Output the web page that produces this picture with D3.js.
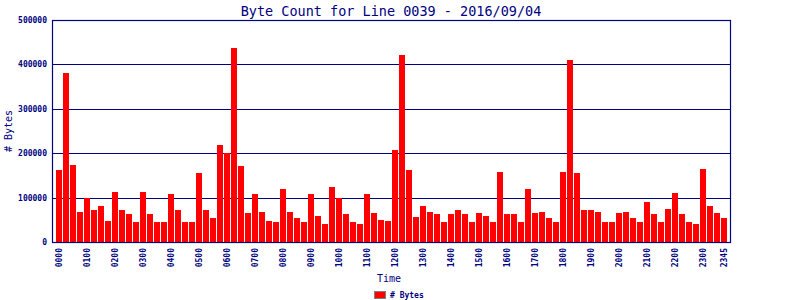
<!DOCTYPE html>
<html><head><meta charset="utf-8">
<script src="https://cdn.jsdelivr.net/npm/d3@7"></script>
<style>body{margin:0;background:#fff}svg{display:block}</style>
</head><body>
<script>
const times = [];
for (let h = 0; h < 24; h++) for (let m = 0; m < 60; m += 15)
  times.push(String(h).padStart(2,"0") + String(m).padStart(2,"0"));
const bytes = [
 162000,381000,174000,68000,100000,73000,80000,48000,
 113000,73000,64000,46000,113000,62000,46000,46000,
 109000,71000,44000,46000,156000,71000,53000,219000,
 201000,438000,172000,66000,109000,68000,48000,44000,
 119000,68000,55000,44000,109000,59000,41000,125000,
 98000,64000,44000,41000,109000,66000,50000,48000,
 208000,422000,163000,57000,80000,68000,62000,44000,
 64000,73000,62000,44000,66000,59000,44000,158000,
 64000,62000,44000,119000,66000,68000,53000,46000,
 158000,411000,156000,71000,71000,68000,46000,44000,
 66000,68000,53000,44000,89000,64000,46000,75000,
 111000,64000,46000,41000,165000,80000,66000,53000
];
const tickLabels = times.filter((t,i) => t.endsWith("00") || i === times.length-1);
const yTicks = [0,100000,200000,300000,400000,500000];
const title = "Byte Count for Line 0039 - 2016/09/04";
const navy = "#000080", red = "#ff0000";

const W = 800, H = 300;
const L = 52, R = 730, T = 20, B = 242;
const svg = d3.select("body").append("svg").attr("width", W).attr("height", H)
  .style("font-family", "'DejaVu Sans Mono', monospace");

const x = d3.scaleBand().domain(times).range([55, 728]).padding(1/7);
const y = d3.scaleLinear().domain([0, 500000]).range([B, T]);

// gridlines
svg.append("g").selectAll("line").data(yTicks.slice(1)).join("line")
  .attr("x1", L).attr("x2", R).attr("y1", d => Math.round(y(d)) + 0.5).attr("y2", d => Math.round(y(d)) + 0.5)
  .attr("stroke", navy).attr("stroke-width", 1.2);

// bars
svg.append("g").attr("shape-rendering", "crispEdges").selectAll("rect").data(bytes).join("rect")
  .attr("x", (d,i) => Math.round(x(times[i]))).attr("width", Math.round(x.bandwidth()))
  .attr("y", d => Math.round(y(d))).attr("height", d => B - Math.round(y(d)))
  .attr("fill", red);

// frame
svg.append("rect").attr("x", L + 0.5).attr("y", T + 0.5).attr("width", R - L).attr("height", B - T)
  .attr("fill", "none").attr("stroke", navy).attr("stroke-width", 1.2);

// y axis labels
const yAxis = d3.axisLeft(y).tickValues(yTicks).tickSize(0).tickPadding(5).tickFormat(d3.format("d"));
const gy = svg.append("g").attr("transform", `translate(${L},0)`).call(yAxis);
gy.select(".domain").remove();
gy.selectAll("text").attr("fill", navy).style("font-size", "8px").style("font-weight", "bold")
  .style("font-family", "'DejaVu Sans Mono', monospace");

// x axis labels
const xAxis = d3.axisBottom(x).tickValues(tickLabels).tickSize(0).tickPadding(0);
const gx = svg.append("g").attr("transform", `translate(0,${B})`).call(xAxis);
gx.select(".domain").remove();
gx.selectAll("text").attr("fill", navy).style("font-size", "8px").style("font-weight", "bold")
  .style("font-family", "'DejaVu Sans Mono', monospace")
  .attr("text-anchor", "end").attr("transform", "rotate(-90)")
  .attr("x", -6).attr("y", 0).attr("dy", "0.32em");

// title
svg.append("text").attr("x", 391).attr("y", 16).attr("text-anchor", "middle")
  .attr("fill", navy).style("font-size", "13.5px").text(title);

// axis titles
svg.append("text").attr("x", 389).attr("y", 282).attr("text-anchor", "middle")
  .attr("fill", navy).style("font-size", "10px").text("Time");
svg.append("text").attr("transform", `translate(12,${(T+B)/2}) rotate(-90)`).attr("text-anchor", "middle")
  .attr("fill", navy).style("font-size", "10px").text("# Bytes");

// legend
svg.append("rect").attr("x", 374.5).attr("y", 291.5).attr("width", 11).attr("height", 7)
  .attr("fill", red).attr("stroke", "#808080");
svg.append("text").attr("x", 390).attr("y", 298).attr("fill", navy)
  .style("font-size", "8px").style("font-weight", "bold").text("# Bytes");
</script>
</body></html>
